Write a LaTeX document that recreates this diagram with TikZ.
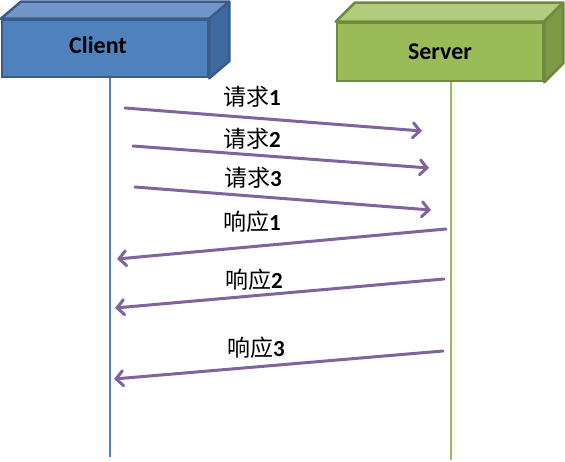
\documentclass[tikz,border=0pt]{standalone}
\usepackage{fontspec}
\setmainfont{Carlito}
\newfontfamily\cjk{Noto Sans CJK SC}
\usetikzlibrary{arrows.meta,calc}
\definecolor{cliface}{HTML}{4F81BD}
\definecolor{clitop}{HTML}{7296CA}
\definecolor{cliside}{HTML}{3F6A9F}
\definecolor{cliedge}{HTML}{385D8A}
\definecolor{srvface}{HTML}{9BBB59}
\definecolor{srvtop}{HTML}{B3CB7D}
\definecolor{srvside}{HTML}{7F9A47}
\definecolor{srvedge}{HTML}{71893F}
\definecolor{msgpurple}{HTML}{8064A2}
\tikzset{
  box/.style = {
    minimum width=206pt, minimum height=57pt,
    line width=2.5pt, inner sep=0pt,
    font=\fontsize{24}{28}\selectfont\bfseries
  },
  face/.style = {line width=2.5pt, line join=round},
  life/.style = {line width=2.5pt},
  msg/.style  = {
    draw=msgpurple, line width=3pt, line cap=round,
    -{Straight Barb[length=7pt, width=15pt, line cap=round]}
  },
  lbl/.style  = {inner sep=0pt, font=\fontsize{23}{26}\selectfont}
}
\newcommand{\zh}[2]{{\cjk #1}\textbf{#2}}

\begin{document}
\begin{tikzpicture}[x=1pt, y=-1pt]
\useasboundingbox (0,0) rectangle (565,462);
% client box, front face
\node[box, fill=cliface, draw=cliedge, text depth=0pt] (client) at (105,48.5) {};
\node[font=\fontsize{24}{28}\selectfont\bfseries] (clitext) at (98,45) {Client};
\draw[face, cliedge, fill=clitop]
  (client.north west) -- ++(20,-17) -- ($(client.north east)+(20,-17)$) -- (client.north east) -- cycle;
\draw[face, cliedge, fill=cliside]
  (client.north east) -- ++(20,-17) -- ($(client.south east)+(20,-17)$) -- (client.south east) -- cycle;
% server box, front face
\node[box, minimum height=58pt, fill=srvface, draw=srvedge] (server) at (440,52) {Server};
\draw[face, srvedge, fill=srvtop]
  (server.north west) -- ++(19,-19) -- ($(server.north east)+(19,-19)$) -- (server.north east) -- cycle;
\draw[face, srvedge, fill=srvside]
  (server.north east) -- ++(19,-19) -- ($(server.south east)+(19,-19)$) -- (server.south east) -- cycle;
% lifelines
\coordinate (cliend) at (110,457);
\coordinate (srvend) at (451,460);
\draw[life, cliface] (client.south -| cliend) -- (cliend);
\draw[life, srvface] (server.south -| srvend) -- (srvend);
% requests
\coordinate (q1a) at (125,108); \coordinate (q1b) at (422,131);
\coordinate (q2a) at (133,146); \coordinate (q2b) at (429,168);
\coordinate (q3a) at (135,187); \coordinate (q3b) at (431,210);
\draw[msg] (q1a) -- (q1b);
\draw[msg] (q2a) -- (q2b);
\draw[msg] (q3a) -- (q3b);
\node[lbl] (q1) at (252,97)  {\zh{请求}{1}};
\node[lbl] (q2) at (252,139) {\zh{请求}{2}};
\node[lbl] (q3) at (253,178) {\zh{请求}{3}};
% responses
\coordinate (r1a) at (446,229); \coordinate (r1b) at (117,259);
\coordinate (r2a) at (444,279); \coordinate (r2b) at (115,308);
\coordinate (r3a) at (443,351); \coordinate (r3b) at (114,379);
\draw[msg] (r1a) -- (r1b);
\draw[msg] (r2a) -- (r2b);
\draw[msg] (r3a) -- (r3b);
\node[lbl] (r1) at (252,222) {\zh{响应}{1}};
\node[lbl] (r2) at (254,280) {\zh{响应}{2}};
\node[lbl] (r3) at (256,348) {\zh{响应}{3}};
\end{tikzpicture}
\end{document}
